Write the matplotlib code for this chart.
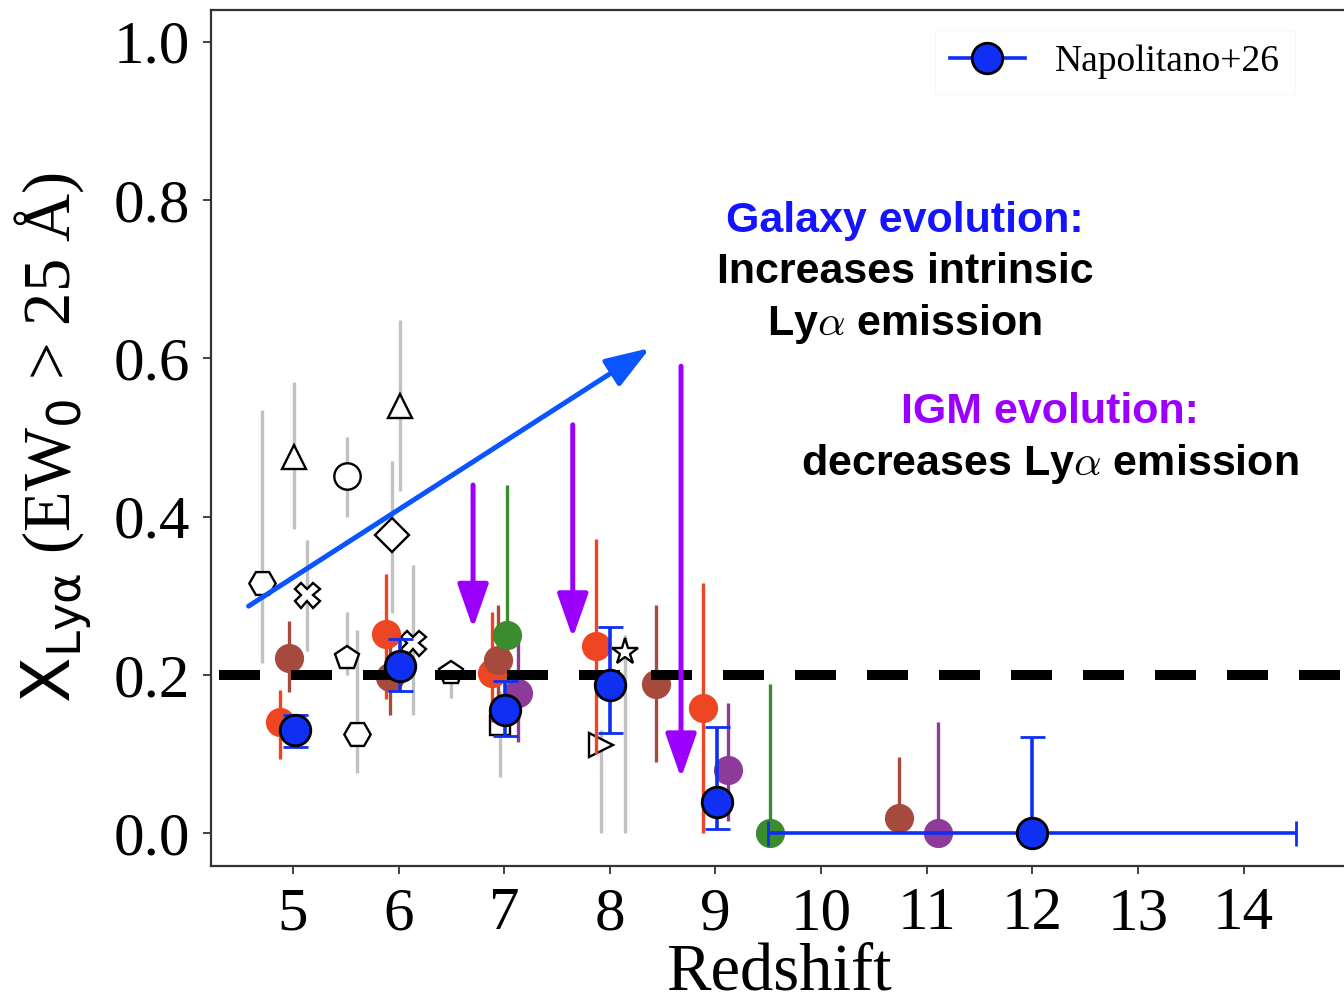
import matplotlib.pyplot as plt
from matplotlib.lines import Line2D
import numpy as np

plt.rcParams['font.family'] = ['Liberation Serif', 'DejaVu Serif']
plt.rcParams['mathtext.fontset'] = 'dejavusans'

# ---- literature compilation (open symbols, grey error bars) ----
lit_z  = [4.71, 5.01, 5.51, 6.01, 5.94, 5.13, 5.51, 5.61, 6.14, 6.50, 6.96, 8.14, 7.92]
lit_x  = [0.316, 0.475, 0.451, 0.540, 0.377, 0.301, 0.221, 0.125, 0.240, 0.202, 0.137, 0.229, 0.111]
lit_lo = [0.215, 0.384, 0.400, 0.432, 0.278, 0.230, 0.200, 0.076, 0.149, 0.171, 0.071, 0.000, 0.000]
lit_hi = [0.535, 0.570, 0.500, 0.648, 0.470, 0.370, 0.279, 0.257, 0.339, 0.215, 0.180, 0.250, 0.130]
lit_mk = ['H', '^', 'o', '^', 'D', 'X', 'p', 'H', 'X', 'p', 's', '*', '>']
lit_ms = [19, 17, 19, 17, 17, 18, 18, 19, 18, 18, 15, 20, 17]

# ---- coloured literature points (filled circles) ----
orange_z  = [4.88, 5.88, 6.88, 7.87, 8.88]
orange_x  = [0.140, 0.252, 0.202, 0.236, 0.158]
orange_lo = [0.094, 0.170, 0.140, 0.100, 0.000]
orange_hi = [0.181, 0.328, 0.280, 0.372, 0.316]

brown_z  = [4.96, 5.92, 6.94, 8.44, 10.74]
brown_x  = [0.221, 0.198, 0.219, 0.189, 0.019]
brown_lo = [0.179, 0.149, 0.150, 0.090, 0.019]
brown_hi = [0.268, 0.260, 0.289, 0.289, 0.097]

green_z  = [7.03, 9.52]
green_x  = [0.251, 0.000]
green_lo = [0.190, 0.000]
green_hi = [0.440, 0.189]

purple_z  = [7.13, 9.12, 11.11]
purple_x  = [0.177, 0.080, 0.000]
purple_lo = [0.115, 0.016, 0.000]
purple_hi = [0.248, 0.165, 0.140]

# ---- Napolitano+26 ----
nap_z     = [5.02, 6.01, 7.01, 8.00, 9.01, 12.0]
nap_x     = [0.130, 0.211, 0.156, 0.187, 0.040, 0.000]
nap_lo    = [0.109, 0.180, 0.123, 0.127, 0.006, 0.000]
nap_hi    = [0.150, 0.246, 0.193, 0.261, 0.134, 0.122]
nap_zerr  = [0, 0, 0, 0, 0, 2.5]

# ---- annotation arrows ----
gal_arrow_start = (4.58, 0.287)
gal_arrow_end = (8.38, 0.613)
igm_arrow_z = [6.705, 7.649, 8.674]
igm_arrow_top = [0.440, 0.516, 0.590]
igm_arrow_tip = [0.259, 0.247, 0.070]

threshold = 0.2

blue = '#0f2ff2'
c_orange = '#ee4523'
c_brown = '#a64a3e'
c_green = '#3b8c2f'
c_purple = '#8c3b9b'
grey = '#c2c2c2'
arrow_blue = '#0a55ff'
igm_purple = '#9b00ff'

fig = plt.figure(figsize=(13.44, 10.07), dpi=100)
ax = fig.add_axes([211/1344, 141/1007, (1346-211)/1344, 856/1007])

# literature open symbols
for z, x, lo, hi, mk, ms in zip(lit_z, lit_x, lit_lo, lit_hi, lit_mk, lit_ms):
    ax.errorbar(z, x, yerr=[[x - lo], [hi - x]], fmt=mk, ms=ms, mfc='white',
                mec='black', mew=1.7, ecolor=grey, elinewidth=2.4, capsize=0, zorder=2)

def filled(zs, xs, los, his, col):
    xs = np.array(xs); los = np.array(los); his = np.array(his)
    ax.errorbar(zs, xs, yerr=[xs - los, his - xs], fmt='o', ms=20, color=col,
                mec=col, elinewidth=2.4, capsize=0, zorder=3)

filled(orange_z, orange_x, orange_lo, orange_hi, c_orange)
filled(brown_z, brown_x, brown_lo, brown_hi, c_brown)
filled(green_z, green_x, green_lo, green_hi, c_green)
filled(purple_z, purple_x, purple_lo, purple_hi, c_purple)

ax.axhline(threshold, color='black', lw=7.2, ls=(6.4, (4.1, 3.1)), zorder=4)

nx = np.array(nap_x)
ax.errorbar(nap_z, nx, yerr=[nx - np.array(nap_lo), np.array(nap_hi) - nx],
            xerr=[nap_zerr, nap_zerr], fmt='o', ms=22, mfc=blue, mec='black', mew=2,
            ecolor=blue, elinewidth=2.6, capsize=9, capthick=2.6, zorder=5)

# arrows
astyle = '-|>,head_length=2.7,head_width=0.95'
ax.annotate('', xy=gal_arrow_end, xytext=gal_arrow_start,
            arrowprops=dict(arrowstyle=astyle, color=arrow_blue,
                            lw=3.6, shrinkA=0, shrinkB=0, mutation_scale=10), zorder=6)
for z, top, tip in zip(igm_arrow_z, igm_arrow_top, igm_arrow_tip):
    ax.annotate('', xy=(z, tip), xytext=(z, top),
                arrowprops=dict(arrowstyle=astyle, color=igm_purple,
                                lw=3.6, shrinkA=0, shrinkB=0, mutation_scale=10), zorder=6)

# annotation texts
tkw = dict(fontsize=31, fontweight='bold', family='Liberation Sans', ha='center', va='center',
           math_fontfamily='cm', zorder=7)
ax.text(10.795, 0.773, 'Galaxy evolution:', color='#1414ff', **tkw)
ax.text(10.795, 0.709, 'Increases intrinsic', color='black', **tkw)
ax.text(10.795, 0.643, r'Ly$\alpha$ emission', color='black', **tkw)
ax.text(12.17, 0.532, 'IGM evolution:', color=igm_purple, **tkw)
ax.text(12.17, 0.4665, r'decreases Ly$\alpha$ emission', color='black', **tkw)

ax.set_xlim(4.224, 14.97)
ax.set_ylim(-0.0413, 1.040)
ax.set_xticks(range(5, 15))
ax.set_yticks([0.0, 0.2, 0.4, 0.6, 0.8, 1.0])
ax.set_yticklabels(['0.0', '0.2', '0.4', '0.6', '0.8', '1.0'])
ax.tick_params(direction='out', length=6, width=1.2, labelsize=44, pad=9, colors='#222222',
               labelcolor='black')
for s in ax.spines.values():
    s.set_linewidth(1.6)
    s.set_color('#333333')

ax.set_xlabel('Redshift', fontsize=48, labelpad=0)
ax.set_ylabel(r'$\mathrm{X}_{\mathrm{Ly\alpha}}$ (EW$_0$ > 25 Å)', fontsize=48, labelpad=14)

handle = Line2D([], [], color=blue, lw=2.6, marker='o', ms=22, mfc=blue, mec='black', mew=2)
ax.legend([handle], ['Napolitano+26'], loc='upper right', bbox_to_anchor=(0.955, 0.977),
          borderaxespad=0, fontsize=27, frameon=True, edgecolor='#f8f8f8', framealpha=1,
          fancybox=False, handletextpad=0.8, handlelength=2.0)

fig.savefig('out.png', dpi=100)
